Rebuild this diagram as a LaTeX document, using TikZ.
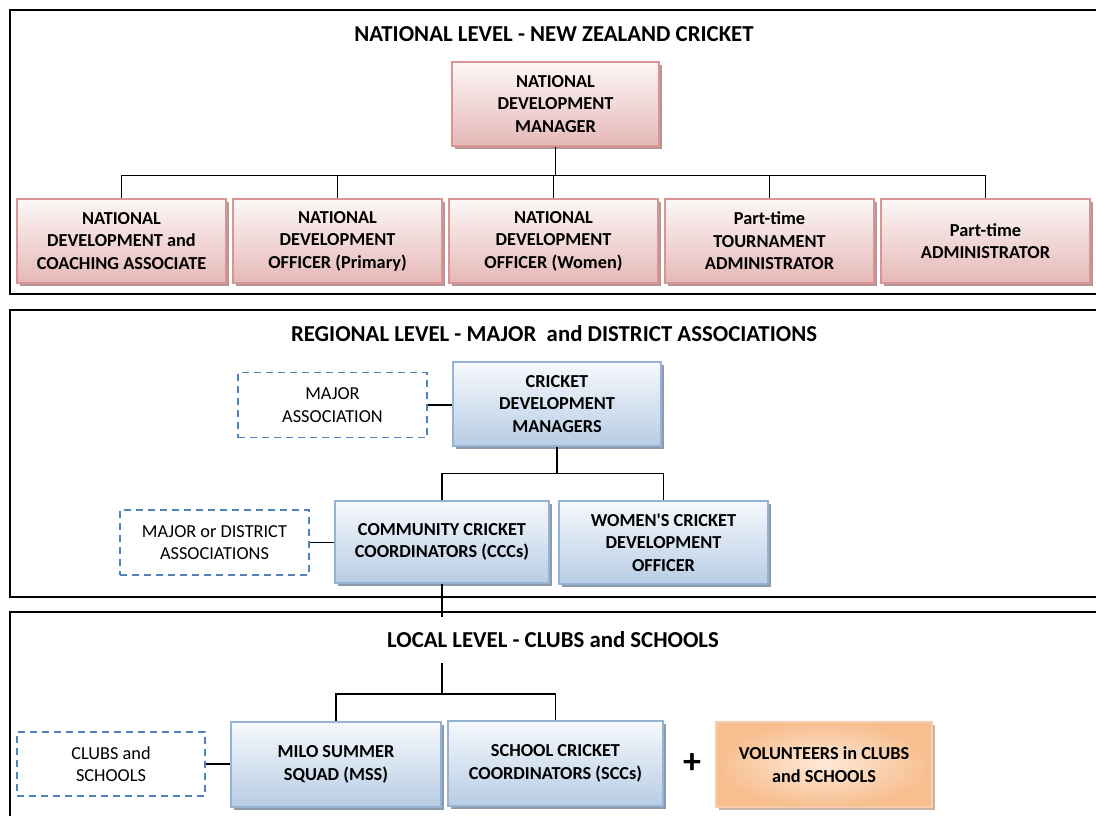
\documentclass[tikz,border=0pt]{standalone}
\usepackage{fontspec}
\setmainfont{Carlito}
\usepackage{xcolor}
\usepackage{tikz}
\usetikzlibrary{shadows,positioning,calc}
\definecolor{pinkline}{HTML}{D99594}
\definecolor{pinktop}{HTML}{FDF7F7}
\definecolor{pinkbot}{HTML}{E5B8B7}
\definecolor{pinkshade}{HTML}{B89595}
\definecolor{blueline}{HTML}{95B3D7}
\definecolor{bluetop}{HTML}{F6F9FD}
\definecolor{bluebot}{HTML}{B8CCE4}
\definecolor{blueshade}{HTML}{8E99AA}
\definecolor{dashblue}{HTML}{4F81BD}
\definecolor{orginner}{HTML}{FDE9DA}
\definecolor{orgouter}{HTML}{F7BE8E}
\definecolor{orgline}{HTML}{F9CDAA}
\definecolor{orgshade}{HTML}{C9B4A4}

\begin{document}
\begin{tikzpicture}[x=1pt,y=-1pt,
  font=\fontsize{18.3}{22.5}\selectfont\bfseries,
  panel/.style={draw=black,line width=1.5pt},
  lvl/.style={inner sep=0pt,font=\fontsize{22.8}{26}\selectfont\bfseries},
  nat/.style={draw=pinkline,line width=1.5pt,top color=pinktop,bottom color=pinkbot,
              minimum width=209pt,minimum height=84pt,inner sep=0pt,align=center,
              drop shadow={shadow xshift=3pt,shadow yshift=-3pt,opacity=1,fill=pinkshade}},
  reg/.style={draw=blueline,line width=1.5pt,top color=bluetop,bottom color=bluebot,
              minimum width=210pt,minimum height=84pt,inner sep=0pt,align=center,
              drop shadow={shadow xshift=3pt,shadow yshift=-3pt,opacity=1,fill=blueshade}},
  vol/.style={draw=orgline,line width=1.5pt,inner color=orginner,outer color=orgouter,
              minimum width=216pt,minimum height=85pt,inner sep=0pt,align=center,
              drop shadow={shadow xshift=3pt,shadow yshift=-3pt,opacity=1,fill=orgshade}},
  dbox/.style={draw=dashblue,line width=1.5pt,dash pattern=on 7pt off 5pt,
               minimum width=189pt,minimum height=65pt,inner sep=0pt,align=center,
               font=\fontsize{18.3}{22.5}\selectfont\mdseries},
  link/.style={draw=black,line width=1.3pt}]
  \clip (0,0) rectangle (1096,815);
  % three level panels
  \draw[panel] (1110,10) -| (10,294) -- (1110,294);
  \draw[panel] (1110,310) -| (10,597) -- (1110,597);
  \draw[panel] (1110,612) -| (10,830);
  \node[lvl] (natlvl) at (554,34) {NATIONAL LEVEL - NEW ZEALAND CRICKET};
  \node[lvl] (reglvl) at (554,334) {REGIONAL LEVEL - MAJOR~ and DISTRICT ASSOCIATIONS};
  \node[lvl] (loclvl) at (553,640) {LOCAL LEVEL - CLUBS and SCHOOLS};

  % national
  \node[nat,minimum width=207pt] (ndm) at (555.5,104) {NATIONAL\\DEVELOPMENT\\MANAGER};
  \node[nat] (ndca) at (121.5,241) {NATIONAL\\DEVELOPMENT and\\COACHING ASSOCIATE};
  \node[nat] (ndop) at (337.5,241) {NATIONAL\\DEVELOPMENT\\OFFICER (Primary)};
  \node[nat] (ndow) at (553.5,241) {NATIONAL\\DEVELOPMENT\\OFFICER (Women)};
  \node[nat] (pta) at (769.5,241) {Part-time\\TOURNAMENT\\ADMINISTRATOR};
  \node[nat] (pad) at (985.5,241) {Part-time\\ADMINISTRATOR};
  \foreach \kid in {ndca,ndop,ndow,pta,pad}
    \draw[link] (ndm.south) -- ++(0,29) -| (\kid.north);

  % regional
  \node[reg,minimum width=208pt] (cdm) at (557,404) {CRICKET\\DEVELOPMENT\\MANAGERS};
  \node[dbox] (majas) at (332.5,405) {MAJOR\\ASSOCIATION};
  \node[reg,minimum width=214pt,minimum height=82pt] (ccc) at (442,542) {COMMUNITY CRICKET\\COORDINATORS (CCCs)};
  \node[reg,minimum width=209pt,minimum height=83pt] (wcdo) at (663.5,542.5) {WOMEN\textquotesingle S CRICKET\\DEVELOPMENT\\OFFICER};
  \node[dbox] (mdas) at (214.5,542.5) {MAJOR or DISTRICT\\ASSOCIATIONS};
  \draw[link] (majas.east) -- (majas.east -| cdm.west);
  \draw[link] (mdas.east) -- (mdas.east -| ccc.west);
  \foreach \kid in {ccc,wcdo}
    \draw[link] (cdm.south) -- ++(0,27) -| (\kid.north);
  \coordinate (cccend) at ($(ccc.south)+(0,33)$);
  \draw[link] (ccc.south) -- (cccend);

  % local
  \coordinate (lochub) at (ccc.south |- 0,663);
  \node[reg,minimum width=210pt,minimum height=85pt] (mss) at (336,764.5) {MILO SUMMER\\SQUAD (MSS)};
  \node[reg,minimum width=215pt,minimum height=85pt] (scc) at (555.5,763.5) {SCHOOL CRICKET\\COORDINATORS (SCCs)};
  \node[dbox,minimum width=188pt,minimum height=64pt] (clubs) at (111,764) {CLUBS and\\SCHOOLS};
  \node[font=\fontsize{36}{36}\selectfont\bfseries,inner sep=0pt] (plus) at (692,764) {+};
  \node[vol] (volu) at (824,764.5) {VOLUNTEERS in CLUBS\\and SCHOOLS};
  \foreach \kid in {mss,scc}
    \draw[link] (lochub) -- ++(0,31) -| (\kid.north);
  \draw[link] (clubs.east) -- (clubs.east -| mss.west);
\end{tikzpicture}
\end{document}
